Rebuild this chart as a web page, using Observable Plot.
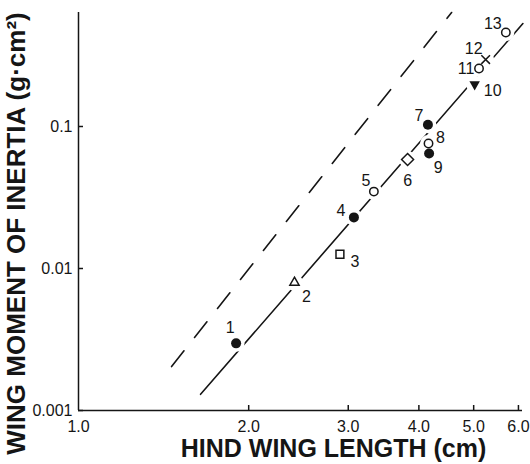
<!DOCTYPE html>
<html><head><meta charset="utf-8">
<script src="https://cdn.jsdelivr.net/npm/d3@7"></script>
<script src="https://cdn.jsdelivr.net/npm/@observablehq/plot@0.6"></script>
<style>
body{margin:0;background:#fff;}
svg{font-family:"Liberation Sans",Arial,sans-serif;}
</style>
</head><body><div id="chart"></div>
<script>
// ---- data ----
const ids = ["1","2","3","4","5","6","7","8","9","10","11","12","13"];
const hindWingLength = [1.90, 2.41, 2.90, 3.07, 3.33, 3.82, 4.15, 4.16, 4.17, 5.02, 5.11, 5.25, 5.70];
const momentOfInertia = [0.00297, 0.00796, 0.0126, 0.0229, 0.0348, 0.0586, 0.103, 0.0759, 0.0646, 0.198, 0.256, 0.296, 0.459];
const markerType = ["filledCircle","openTriangle","openSquare","filledCircle","openCircle","openDiamond","filledCircle","openCircle","filledCircle","filledTriangleDown","openCircle","cross","openCircle"];
const fitLineX = [1.644, 6.11];
const fitLineY = [0.0013, 0.531];
const upperLineX = [1.461, 4.57];
const upperLineY = [0.00204, 0.635];
const xTicks = [1, 2, 3, 4, 5, 6];
const yTicks = [0.001, 0.01, 0.1];
const xTitle = "HIND WING LENGTH (cm)";
const yTitle = "WING MOMENT OF INERTIA (g\u00B7cm\u00B2)";

// ---- layout (label offsets in px) ----
const labelDx = [-6, 12, 15, -13, -8, 0, -9, 12, 9, 18, -13, -12, -13];
const labelDy = [-15, 14, 8, -7, -11, 21, -9, -6, 14, 7, 0, -11, -9];

const points = ids.map((id, i) => ({id, x: hindWingLength[i], y: momentOfInertia[i], type: markerType[i]}));
const fitLine = fitLineX.map((x, i) => ({x, y: fitLineY[i]}));
const upperLine = upperLineX.map((x, i) => ({x, y: upperLineY[i]}));

const triangleDown = {
  draw(context, size) {
    const s = Math.sqrt(size) * 0.6824, t = s / 2, u = s * Math.sqrt(3) / 2;
    context.moveTo(0, s);
    context.lineTo(u, -t);
    context.lineTo(-u, -t);
    context.closePath();
  }
};
const ink = "#151515";
const of = t => points.filter(d => d.type === t);

const marks = [
  Plot.ruleX([1], {stroke: ink, strokeWidth: 1.5}),
  Plot.ruleY([0.001], {stroke: ink, strokeWidth: 1.5}),
  Plot.tickX(xTicks.slice(1), {insetTop: 393, stroke: ink, strokeWidth: 1.5}),
  Plot.tickY(yTicks, {insetRight: 439, stroke: ink, strokeWidth: 1.5}),
  Plot.axisX({ticks: xTicks, tickSize: 0, tickPadding: 10, tickFormat: d => d.toFixed(1), fontSize: 16, label: null, fill: ink}),
  Plot.axisY({ticks: yTicks, tickSize: 0, tickPadding: 6, tickFormat: d => String(d), fontSize: 16, label: null, fill: ink}),
  Plot.line(upperLine, {x: "x", y: "y", stroke: ink, strokeWidth: 1.6, strokeDasharray: "20,17"}),
  Plot.line(fitLine, {x: "x", y: "y", stroke: ink, strokeWidth: 1.6}),
  // white halos that break the lines around the markers
  Plot.dot(points, {x: "x", y: "y", r: 6, fill: "white", stroke: "white", strokeWidth: 5}),
  Plot.dot(of("filledCircle"), {x: "x", y: "y", r: 5, fill: ink, symbol: "circle"}),
  Plot.dot(of("openCircle"), {x: "x", y: "y", r: 4.2, fill: "white", stroke: ink, strokeWidth: 1.5, symbol: "circle"}),
  Plot.dot(of("openTriangle"), {x: "x", y: "y", r: 4.4, fill: "white", stroke: ink, strokeWidth: 1.5, symbol: "triangle2"}),
  Plot.dot(of("openSquare"), {x: "x", y: "y", r: 5, fill: "white", stroke: ink, strokeWidth: 1.5, symbol: "square2"}),
  Plot.dot(of("openDiamond"), {x: "x", y: "y", r: 5.4, fill: "white", stroke: ink, strokeWidth: 1.5, symbol: "diamond2"}),
  Plot.dot(of("filledTriangleDown"), {x: "x", y: "y", r: 5, fill: ink, symbol: triangleDown}),
  Plot.dot(of("cross"), {x: "x", y: "y", r: 4, stroke: ink, strokeWidth: 1.5, symbol: "times"}),
  ...points.map((d, i) => Plot.text([d], {x: "x", y: "y", text: "id", dx: labelDx[i], dy: labelDy[i], fontSize: 16, fill: ink})),
  Plot.text([xTitle], {frameAnchor: "bottom", textAnchor: "middle", lineAnchor: "middle", dx: 33, dy: 38, fontSize: 25, fontWeight: "bold", fill: ink}),
  Plot.text([yTitle], {frameAnchor: "left", textAnchor: "middle", lineAnchor: "middle", rotate: -90, dx: -62, dy: 22, fontSize: 26, fontWeight: "bold", fill: ink})
];

const chart = Plot.plot({
  width: 530,
  height: 464,
  marginLeft: 78,
  marginRight: 8,
  marginTop: 12,
  marginBottom: 54,
  style: {background: "white", fontFamily: "Liberation Sans, Arial, sans-serif"},
  x: {type: "log", domain: [1, 6.1]},
  y: {type: "log", domain: [0.001, 0.635]},
  marks
});
document.getElementById("chart").appendChild(chart);
</script>
</body></html>
